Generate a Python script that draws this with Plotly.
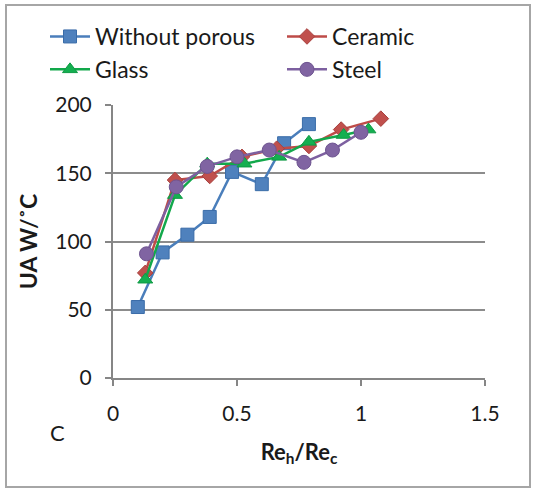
import plotly.graph_objects as go

# Data
wp_x = [0.10, 0.20, 0.30, 0.39, 0.48, 0.60, 0.69, 0.79]
wp_y = [52, 92, 105, 118, 151, 142, 172, 186]

cer_x = [0.13, 0.25, 0.39, 0.52, 0.66, 0.79, 0.92, 1.08]
cer_y = [77, 145, 148, 162, 168, 170, 182, 190]

gl_x = [0.13, 0.25, 0.38, 0.53, 0.67, 0.79, 0.93, 1.03]
gl_y = [72, 134, 157, 157, 162, 173, 178, 182]

st_x = [0.135, 0.255, 0.38, 0.50, 0.63, 0.77, 0.885, 1.0]
st_y = [91, 140, 155, 162, 167, 158, 167, 180]

x_ticks = [0, 0.5, 1, 1.5]
x_ticklabels = ["0", "0.5", "1", "1.5"]
y_ticks = [0, 50, 100, 150, 200]

FONT = "Lato"
W, H = 534, 490
ML, MR, MT, MB = 113, 49, 105, 112

fig = go.Figure()
fig.add_trace(go.Scatter(x=wp_x, y=wp_y, name="Without porous", mode="lines+markers",
                         line=dict(color="#4A7EBB", width=2.5),
                         marker=dict(symbol="square", size=13, color="#4F81BD",
                                     line=dict(color="#3A6CA8", width=1))))
fig.add_trace(go.Scatter(x=cer_x, y=cer_y, name="Ceramic", mode="lines+markers",
                         line=dict(color="#BE4B48", width=2.5),
                         marker=dict(symbol="diamond", size=12, color="#C0504D",
                                     line=dict(color="#A8403D", width=1))))
fig.add_trace(go.Scatter(x=gl_x, y=gl_y, name="Glass", mode="lines+markers",
                         line=dict(color="#12A84B", width=2.5),
                         marker=dict(symbol="triangle-up", size=13, color="#14AF50",
                                     line=dict(color="#0E9A44", width=1))))
fig.add_trace(go.Scatter(x=st_x, y=st_y, name="Steel", mode="lines+markers",
                         line=dict(color="#7D60A0", width=2.5),
                         marker=dict(symbol="circle", size=14, color="#8064A2",
                                     line=dict(color="#6E5490", width=1))))

def px_x(p):
    return (p - ML) / (W - ML - MR)

def px_y(p):
    return 1 - (p - MT) / (H - MT - MB)

fig.update_layout(
    width=W, height=H,
    margin=dict(l=ML, r=MR, t=MT, b=MB),
    paper_bgcolor="white", plot_bgcolor="white",
    font=dict(family=FONT, size=20, color="#1a1a1a"),
    showlegend=True,
    legend=dict(orientation="h", x=px_x(45), y=px_y(15), xanchor="left", yanchor="top",
                entrywidth=182, entrywidthmode="pixels", tracegroupgap=0, itemwidth=40,
                font=dict(family=FONT, size=23, color="#1a1a1a"),
                bgcolor="rgba(0,0,0,0)", itemsizing="trace"),
    xaxis=dict(range=[0, 1.5], tickvals=x_ticks, ticktext=x_ticklabels,
               showgrid=False, zeroline=False, showline=True, linecolor="#868686",
               linewidth=2, ticks="outside", ticklen=6, tickcolor="#868686", tickwidth=2,
               ticklabelstandoff=10,
               tickfont=dict(family=FONT, size=21), fixedrange=True,
               title=dict(text="<b>Re<sub>h</sub>/Re<sub>c</sub></b>",
                          font=dict(family=FONT, size=22), standoff=20)),
    yaxis=dict(range=[0, 200], tickvals=y_ticks,
               showgrid=True, gridcolor="#8c8c8c", gridwidth=1.5, zeroline=False,
               showline=True, linecolor="#868686", linewidth=2,
               ticks="outside", ticklen=6, tickcolor="#868686", tickwidth=2,
               ticklabelstandoff=9,
               tickfont=dict(family=FONT, size=21), fixedrange=True,
               title=dict(text="<b>UA W/˚C</b>", font=dict(family=FONT, size=23), standoff=11)),
    shapes=[dict(type="rect", xref="paper", yref="paper",
                 x0=px_x(6), x1=px_x(530), y0=px_y(487), y1=px_y(5),
                 line=dict(color="#A6A6A6", width=2), fillcolor="rgba(0,0,0,0)", layer="below")],
    annotations=[dict(text="C", xref="paper", yref="paper", x=px_x(57), y=px_y(432),
                      xanchor="center", yanchor="middle", showarrow=False,
                      font=dict(family=FONT, size=22, color="#1a1a1a"))],
)

fig.write_html("out.html")
